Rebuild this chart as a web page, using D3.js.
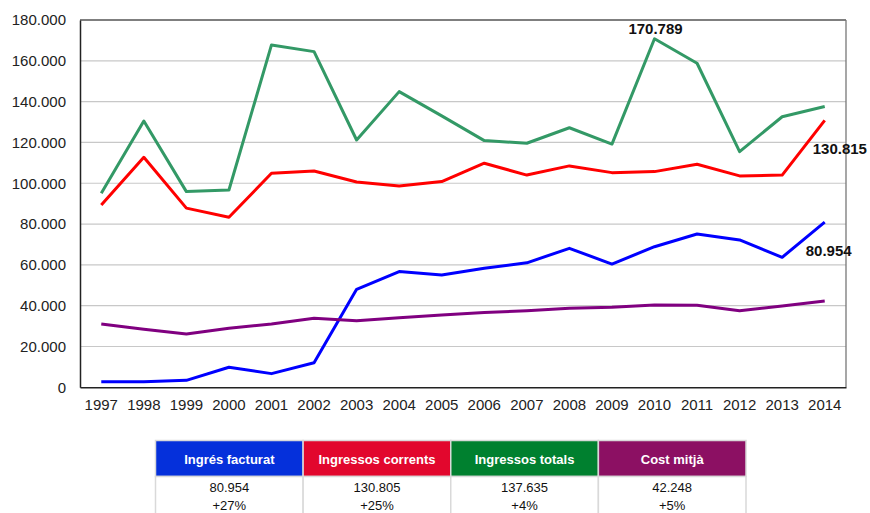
<!DOCTYPE html>
<html>
<head>
<meta charset="utf-8">
<script src="https://cdn.jsdelivr.net/npm/d3@7"></script>
<style>
  html, body { margin: 0; padding: 0; background: #fff; }
  svg { display: block; font-family: Arial, "Liberation Sans", sans-serif; }
</style>
</head>
<body>
<svg id="chart" width="870" height="513"></svg>
<script>
const years = ["1997","1998","1999","2000","2001","2002","2003","2004","2005","2006","2007","2008","2009","2010","2011","2012","2013","2014"];
const ingresFacturat   = [2700, 2700, 3400, 9800, 6700, 12000, 48000, 56700, 55000, 58300, 61000, 68100, 60400, 68900, 75100, 72200, 63700, 80954];
const ingressosCorrents= [89300, 112700, 87800, 83300, 104900, 106000, 100600, 98700, 100800, 109800, 104000, 108500, 105200, 105700, 109300, 103600, 104000, 130805];
const ingressosTotals  = [95100, 130500, 95900, 96700, 167800, 164500, 121200, 144900, 133000, 120900, 119600, 127200, 119200, 170789, 158800, 115500, 132600, 137635];
const costMitja        = [31000, 28400, 26100, 28900, 31000, 33800, 32600, 34100, 35400, 36600, 37500, 38700, 39200, 40300, 40200, 37500, 39800, 42248];
const yTicks = [0, 20000, 40000, 60000, 80000, 100000, 120000, 140000, 160000, 180000];

const seriesNames = ["Ingrés facturat", "Ingressos corrents", "Ingressos totals", "Cost mitjà"];
const tableValues = ["80.954", "130.805", "137.635", "42.248"];
const tableChanges = ["+27%", "+25%", "+4%", "+5%"];
const annotations = [
  {series: 2, idx: 13, text: "170.789"},
  {series: 1, idx: 17, text: "130.815"},
  {series: 0, idx: 17, text: "80.954"}
];

const lineColors = ["#0000FF", "#FF0000", "#339966", "#800080"];
const headerColors = ["#0530DB", "#E2072D", "#00802F", "#8C1063"];
const allSeries = [ingresFacturat, ingressosCorrents, ingressosTotals, costMitja];

const svg = d3.select("#chart");
const L = 80, R = 846, T = 20, B = 387.3;

const x = d3.scaleBand().domain(years).range([L, R]).padding(0);
const y = d3.scaleLinear().domain([0, 180000]).range([B, T]);
const fmt = v => d3.format(",")(v).replace(/,/g, ".");

// gridlines
svg.append("g").selectAll("line").data(yTicks.filter(t => t > 0 && t < 180000)).join("line")
  .attr("x1", L).attr("x2", R)
  .attr("y1", d => y(d)).attr("y2", d => y(d))
  .attr("stroke", "#c8c8c8").attr("stroke-width", 1.2);

// border
svg.append("line").attr("x1", L).attr("x2", R).attr("y1", T).attr("y2", T).attr("stroke", "#555").attr("stroke-width", 1.3);
svg.append("line").attr("x1", R).attr("x2", R).attr("y1", T).attr("y2", B).attr("stroke", "#777").attr("stroke-width", 1.3);

// y axis
const yAxis = d3.axisLeft(y).tickValues(yTicks).tickSize(0).tickPadding(14).tickFormat(fmt);
const gy = svg.append("g").attr("transform", `translate(${L},0)`).call(yAxis);
gy.select(".domain").attr("stroke", "#222").attr("stroke-width", 1.5);
gy.selectAll("text").attr("font-size", 15).attr("fill", "#222").attr("font-family", "Arial, 'Liberation Sans', sans-serif");

// x axis
const xAxis = d3.axisBottom(x).tickSize(0).tickPadding(12);
const gx = svg.append("g").attr("transform", `translate(0,${B})`).call(xAxis);
gx.select(".domain").attr("stroke", "#222").attr("stroke-width", 1.5);
gx.selectAll("text").attr("font-size", 15).attr("fill", "#222").attr("font-family", "Arial, 'Liberation Sans', sans-serif");

// lines
const line = d3.line().x((d, i) => x(years[i]) + x.bandwidth() / 2).y(d => y(d));
svg.append("g").selectAll("path").data(allSeries).join("path")
  .attr("d", d => line(d))
  .attr("fill", "none")
  .attr("stroke", (d, i) => lineColors[i])
  .attr("stroke-width", 3)
  .attr("stroke-linejoin", "round");

// annotations
annotations.forEach(a => {
  const px = x(years[a.idx]) + x.bandwidth() / 2;
  const py = y(allSeries[a.series][a.idx]);
  const t = svg.append("text").text(a.text)
    .attr("font-size", 15).attr("font-weight", "bold").attr("fill", "#111");
  if (a.series === 2) {
    t.attr("x", px + 1).attr("y", py - 5).attr("text-anchor", "middle");
  } else if (a.series === 1) {
    t.attr("x", px - 12).attr("y", py + 34);
  } else {
    t.attr("x", px - 19).attr("y", py + 34);
  }
});

// table
const tx = d3.scaleBand().domain(seriesNames).range([155.5, 746]).padding(0);
const tTop = 440.5, hH = 36, rowH = 40;
const tbl = svg.append("g");
tbl.selectAll("rect.h").data(seriesNames).join("rect")
  .attr("x", d => tx(d)).attr("y", tTop).attr("width", tx.bandwidth()).attr("height", hH)
  .attr("fill", (d, i) => headerColors[i]).attr("stroke", "#d9d9d9").attr("stroke-width", 1.5);
tbl.selectAll("rect.b").data(seriesNames).join("rect")
  .attr("x", d => tx(d)).attr("y", tTop + hH).attr("width", tx.bandwidth()).attr("height", rowH)
  .attr("fill", "#fff").attr("stroke", "#d9d9d9").attr("stroke-width", 1.5);
tbl.selectAll("text.h").data(seriesNames).join("text")
  .attr("x", d => tx(d) + tx.bandwidth() / 2).attr("y", 464)
  .attr("text-anchor", "middle").attr("font-size", 13).attr("font-weight", "bold").attr("fill", "#fff")
  .text(d => d);
tbl.selectAll("text.v").data(tableValues).join("text")
  .attr("x", (d, i) => tx(seriesNames[i]) + tx.bandwidth() / 2).attr("y", 492)
  .attr("text-anchor", "middle").attr("font-size", 13).attr("fill", "#111")
  .text(d => d);
tbl.selectAll("text.c").data(tableChanges).join("text")
  .attr("x", (d, i) => tx(seriesNames[i]) + tx.bandwidth() / 2).attr("y", 510)
  .attr("text-anchor", "middle").attr("font-size", 13).attr("fill", "#111")
  .text(d => d);
</script>
</body>
</html>
